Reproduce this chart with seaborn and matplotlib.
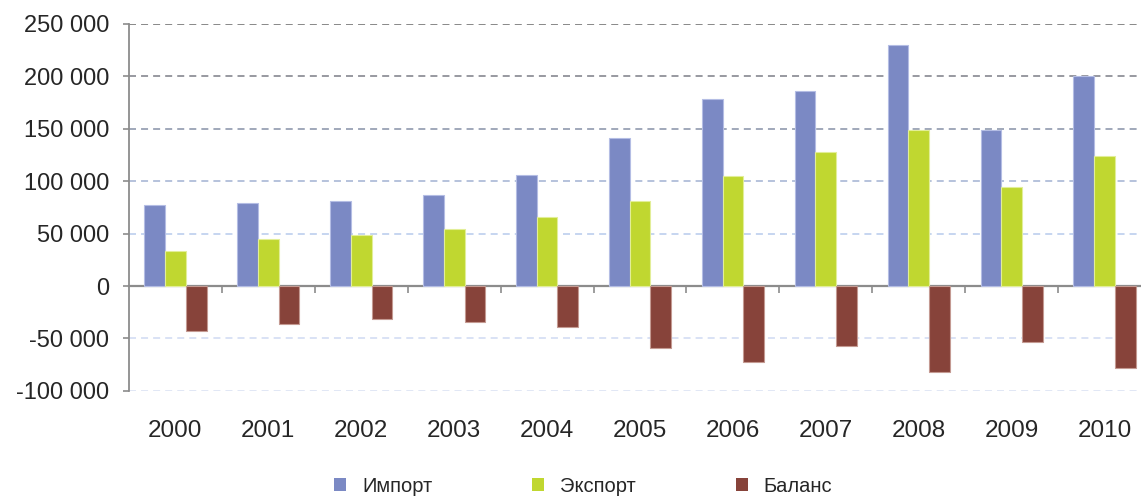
import pandas as pd
import matplotlib.pyplot as plt
import seaborn as sns
from matplotlib.patches import Patch
from matplotlib.ticker import FuncFormatter

years = ["2000", "2001", "2002", "2003", "2004", "2005",
         "2006", "2007", "2008", "2009", "2010"]
imports = [77300, 79500, 81000, 86800, 106000, 141000,
           178000, 186000, 230000, 149000, 200500]
exports = [33400, 44800, 48700, 54400, 65800, 81000,
           104500, 127600, 148700, 94900, 124000]
balance = [-43300, -35700, -31800, -34100, -39500, -58600,
           -72000, -57000, -81800, -52900, -78000]
series = ["Импорт", "Экспорт", "Баланс"]
colors = ["#7b89c4", "#c0d730", "#87433a"]
edges = ["#b4bde4", "#e2ee98", "#c49a92"]

y_ticks = [-100000, -50000, 0, 50000, 100000, 150000, 200000, 250000]
grid_colors = {250000: "#888888", 200000: "#9899a0", 150000: "#a0a8ba",
               100000: "#b6c2dc", 50000: "#c6d5f0", -50000: "#d9e2f5",
               -100000: "#e1e7f5"}

df = pd.DataFrame({
    "year": years * 3,
    "value": imports + exports + balance,
    "series": [s for s in series for _ in years],
})

sns.set_style("white")
plt.rcParams["font.family"] = ["Liberation Sans", "DejaVu Sans"]

fig = plt.figure(figsize=(11.41, 4.98), dpi=100)
ax = fig.add_axes([0.113, 0.215, 0.8958, 0.737])

for v, c in grid_colors.items():
    ax.axhline(v, color=c, lw=1.4, ls=(0, (3.6, 2.6)), zorder=0)

sns.barplot(data=df, x="year", y="value", hue="series", palette=colors,
            width=0.67, gap=0, saturation=1, legend=False, ax=ax, zorder=2)

for cont, ec in zip(ax.containers, edges):
    for bar in cont:
        bar.set_edgecolor(ec)
        bar.set_linewidth(0.8)

ax.set_xlim(-0.5, 10.5)
ax.set_ylim(-100000, 250000)
ax.set_yticks(y_ticks)
ax.yaxis.set_major_formatter(FuncFormatter(lambda v, p: f"{int(v):,}".replace(",", " ")))
ax.set_xlabel("")
ax.set_ylabel("")

for s in ["top", "right", "bottom"]:
    ax.spines[s].set_visible(False)
ax.spines["left"].set_color("#8c8c8c")
ax.spines["left"].set_linewidth(1.3)
ax.tick_params(axis="y", direction="out", length=4, width=1.2, color="#8c8c8c",
               labelsize=17, pad=10, left=True)
ax.tick_params(axis="x", length=0, labelsize=17.5, pad=21)

# x axis line at zero with ticks between categories
zero = ax.secondary_xaxis(100000 / 350000)
zero.set_xticks([i + 0.5 for i in range(len(years) - 1)])
zero.set_xticklabels([])
zero.spines["bottom"].set_color("#8c8c8c")
zero.spines["bottom"].set_linewidth(1.6)
zero.tick_params(axis="x", direction="out", length=5, width=1.2, color="#8c8c8c")

handles = [Patch(facecolor=c, edgecolor="none") for c in colors]
fig.legend(handles, series, loc="center", bbox_to_anchor=(0.511, 0.024), ncol=3,
           frameon=False, fontsize=14.5, handlelength=0.6, handleheight=0.6,
           handletextpad=0.8, columnspacing=4.95)

fig.savefig("out.png", dpi=100)
